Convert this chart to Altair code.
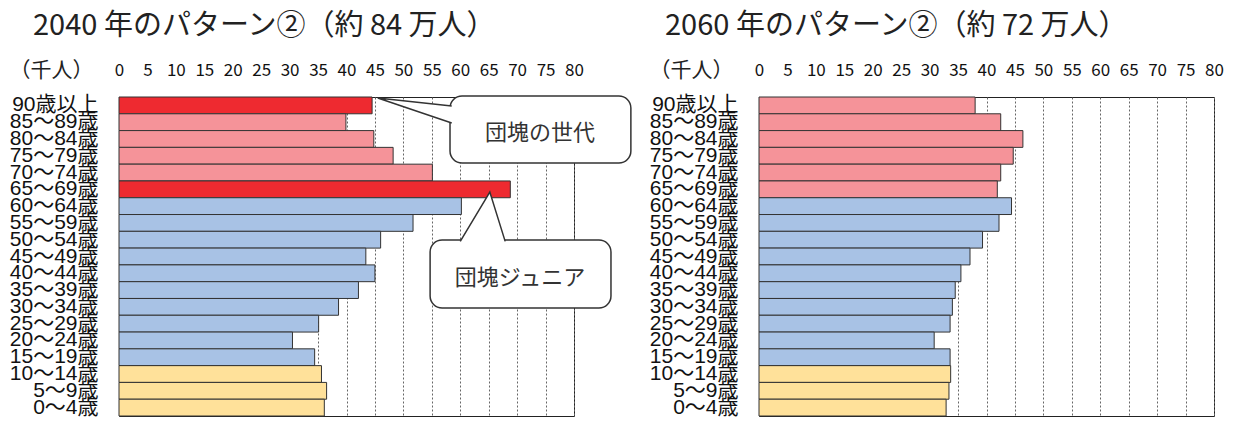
import altair as alt
import pandas as pd

NARROW = "Liberation Sans Narrow, Noto Sans CJK JP, sans-serif"
REG = "Liberation Sans, Noto Sans CJK JP, sans-serif"
CJK = "Noto Sans CJK JP, sans-serif"

ages = ["90歳以上", "85～89歳", "80～84歳", "75～79歳", "70～74歳", "65～69歳",
        "60～64歳", "55～59歳", "50～54歳", "45～49歳", "40～44歳", "35～39歳",
        "30～34歳", "25～29歳", "20～24歳", "15～19歳", "10～14歳", "5～9歳", "0～4歳"]
pop_2040 = [44.5, 39.9, 44.8, 48.2, 55.1, 68.8, 60.2, 51.7, 46.0, 43.4,
            45.0, 42.1, 38.6, 35.1, 30.5, 34.4, 35.6, 36.5, 36.1]
pop_2060 = [38.0, 42.5, 46.4, 44.7, 42.5, 41.9, 44.4, 42.2, 39.3, 37.1,
            35.5, 34.5, 34.0, 33.6, 30.8, 33.6, 33.7, 33.4, 32.9]
grp_2040 = ["団塊", "高齢", "高齢", "高齢", "高齢", "団塊",
            "生産", "生産", "生産", "生産", "生産", "生産", "生産", "生産", "生産", "生産",
            "年少", "年少", "年少"]
grp_2060 = ["高齢", "高齢", "高齢", "高齢", "高齢", "高齢",
            "生産", "生産", "生産", "生産", "生産", "生産", "生産", "生産", "生産", "生産",
            "年少", "年少", "年少"]
grp_names = ["団塊", "高齢", "生産", "年少"]
grp_colors = ["#EE2A30", "#F59399", "#A8C2E5", "#FFE19A"]
x_ticks = [0, 5, 10, 15, 20, 25, 30, 35, 40, 45, 50, 55, 60, 65, 70, 75, 80]

titles = ["2040 年のパターン②（約 84 万人）", "2060 年のパターン②（約 72 万人）"]
title_dx = [-86, -94]

# callouts (x in 千人 units, y in row units from the top)
co_text = ["団塊の世代", "団塊ジュニア"]
co_x = [58.2, 54.7]
co_x2 = [90.0, 86.5]
co_y = [-0.06, 8.52]
co_y2 = [3.93, 12.57]
co_tx = [74.0, 70.5]
co_ty = [2.14, 10.78]
tail_id = [0, 0, 0, 1, 1, 1]
tail_ord = [0, 1, 2, 0, 1, 2]
tail_x = [58.5, 45.5, 58.5, 60.0, 65.2, 67.9]
tail_y = [0.54, 0.06, 1.55, 8.6, 5.66, 8.6]

W, H = 455, 319


def make_x_axis():
    return alt.Axis(orient="top", values=x_ticks, grid=True, gridDash=[2, 2],
                    gridColor="#666", gridWidth=1, ticks=False, domain=False,
                    labelFont=NARROW, labelFontSize=17, labelColor="#111",
                    labelPadding=18, labelFlush=False, labelOverlap=False,
                    title="（千人）", titleX=-68, titleY=-27, titleAlign="center",
                    titleBaseline="middle", titleFont=CJK, titleFontSize=21,
                    titleFontWeight="normal", titleColor="#222")


XS = alt.Scale(domain=[0, 80], nice=False, zero=True)


def panel(pops, grps, title, dx, callouts):
    df = pd.DataFrame({"age": ages, "pop": pops, "grp": grps})
    bars = alt.Chart(df).mark_bar(stroke="#333", strokeWidth=1).encode(
        x=alt.X("pop:Q", scale=XS, axis=make_x_axis()),
        y=alt.Y("age:N", sort=ages, scale=alt.Scale(paddingInner=0, paddingOuter=0),
                axis=alt.Axis(title=None, domain=False, ticks=False, labelFont=REG,
                              labelFontSize=21, labelColor="#111", labelPadding=21,
                              labelLimit=300)),
        color=alt.Color("grp:N", scale=alt.Scale(domain=grp_names, range=grp_colors), legend=None),
    )
    if callouts:
        ys = alt.Scale(domain=[0, 19], reverse=True, nice=False, zero=False)
        box_df = pd.DataFrame({"x": co_x, "x2": co_x2, "y": co_y, "y2": co_y2,
                               "tx": co_tx, "ty": co_ty, "t": co_text})
        tail_df = pd.DataFrame({"id": tail_id, "o": tail_ord, "x": tail_x, "y": tail_y})
        box = alt.Chart(box_df).mark_rect(fill="white", stroke="#333", strokeWidth=1.5,
                                          cornerRadius=12).encode(
            x=alt.X("x:Q", scale=XS, axis=make_x_axis()), x2="x2:Q",
            y=alt.Y("y:Q", scale=ys, axis=None), y2="y2:Q")
        tail = alt.Chart(tail_df).mark_line(fill="white", stroke="#333", strokeWidth=1.5).encode(
            x=alt.X("x:Q", scale=XS, axis=make_x_axis()),
            y=alt.Y("y:Q", scale=ys, axis=None), order="o:Q", detail="id:N")
        txt = alt.Chart(box_df).mark_text(font=CJK, fontSize=22, color="#333").encode(
            x=alt.X("tx:Q", scale=XS, axis=make_x_axis()),
            y=alt.Y("ty:Q", scale=ys, axis=None), text="t:N")
        annot = alt.layer(box, tail, txt)
        layered = alt.layer(bars, annot).resolve_scale(y="independent")
    else:
        layered = alt.layer(bars)
    return layered.properties(
        width=W, height=H,
        title=alt.Title(title, anchor="start", frame="group", dx=dx, offset=-11,
                        baseline="bottom", fontSize=29, font=NARROW,
                        fontWeight="normal", color="#222"))


left = panel(pop_2040, grp_2040, titles[0], title_dx[0], True)
right = panel(pop_2060, grp_2060, titles[1], title_dx[1], False)

chart = alt.hconcat(left, right, spacing=185, bounds="flush").configure_view(
    stroke="#222", strokeWidth=1).properties(
    padding={"left": 0, "top": 3, "right": 5, "bottom": 0})

chart.save("out.html", embed_options={"renderer": "svg", "actions": False})
